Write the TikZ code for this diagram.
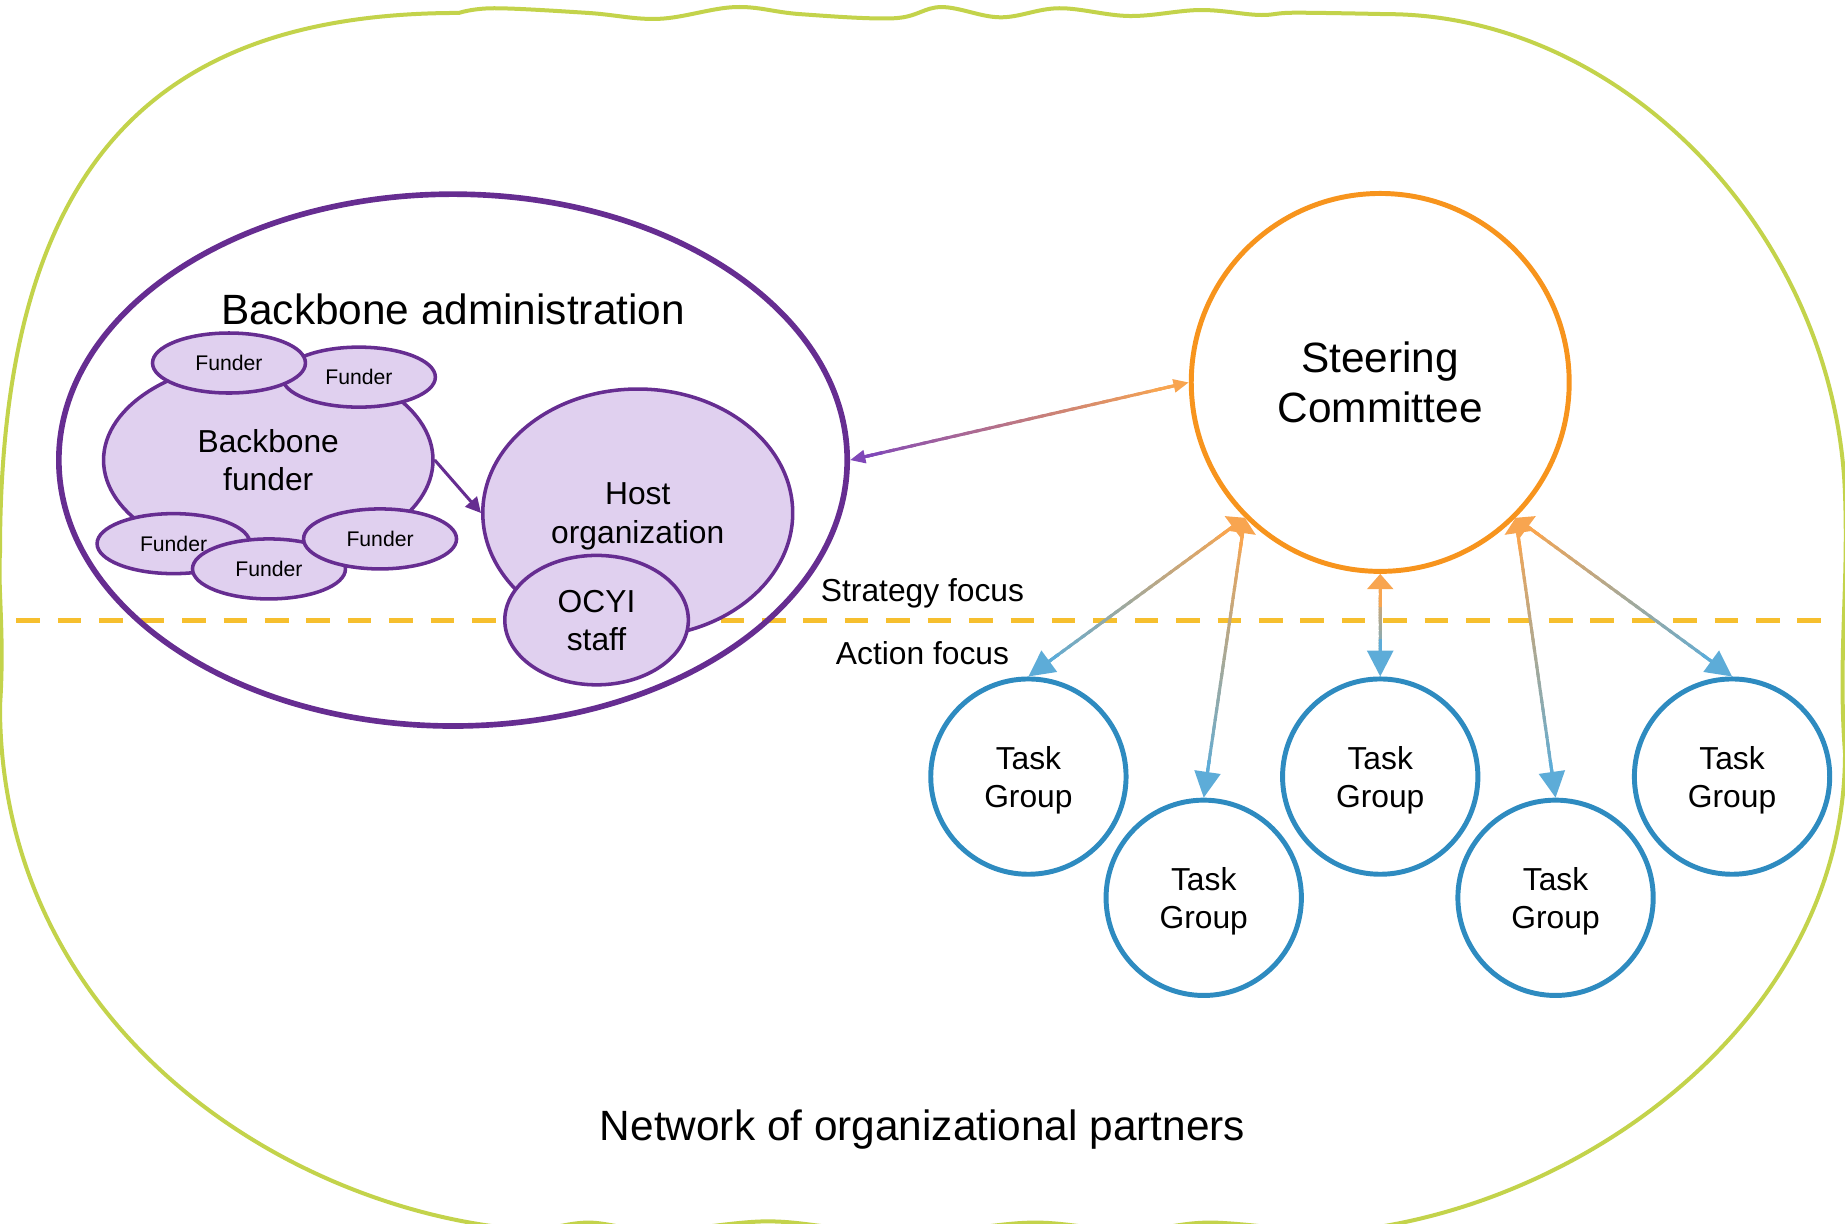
\documentclass[tikz,border=0pt]{standalone}
\usepackage{fontspec}
\setmainfont{Liberation Sans}
\usetikzlibrary{arrows.meta,calc,shapes.geometric}

\definecolor{bbpurple}{HTML}{662D91}
\definecolor{bblilac}{HTML}{E0D0EF}
\definecolor{scorange}{HTML}{F7941D}
\definecolor{tgblue}{HTML}{2E8BC0}
\definecolor{netgreen}{HTML}{C3D34B}
\definecolor{focusline}{HTML}{F6BF2E}
\definecolor{arrpurple}{HTML}{8048B8}
\definecolor{arrorange}{HTML}{F8A550}
\definecolor{arrblue}{HTML}{5DACD8}

% connector whose colour runs from #3 at (#1) to #4 at (#2)
\newcommand{\fadearrow}[6]{%
  \coordinate (fa) at ($(#1)!3pt!(#2)$);
  \coordinate (fb) at ($(#2)!5pt!(#1)$);
  \foreach \k in {0,...,29}{
    \pgfmathtruncatemacro{\fmix}{100-100*\k/29}
    \pgfmathsetmacro{\fto}{min(1,(\k+1.5)/30)}
    \draw[fadeseg, draw=#3!\fmix!#4] ($(fa)!\k/30!(fb)$) -- ($(fa)!\fto!(fb)$);
  }
  \draw[fadeseg, draw=#3, -{#5}] ($(#1)!14pt!(#2)$) -- (#1);
  \draw[fadeseg, draw=#4, -{#6}] ($(#2)!16pt!(#1)$) -- (#2);
}

\begin{document}
\begin{tikzpicture}
    [x=0.5pt, y=-0.5pt, every node/.style={align=center},
     bigtext/.style={font=\fontsize{18}{21.6}\selectfont},
     midtext/.style={font=\fontsize{13.5}{16.2}\selectfont},
     bb/.style={ellipse, draw=bbpurple, fill=bblilac, line width=1.5pt,
       inner sep=0pt, text depth=0pt, midtext},
     fu/.style={bb, minimum width=65pt, minimum height=25.5pt,
       font=\fontsize{9}{10.8}\selectfont},
     tg/.style={circle, draw=tgblue, fill=white, line width=2.1pt,
       minimum size=83pt, text depth=0pt, midtext},
     fadeseg/.style={line width=1.3pt}]

    \useasboundingbox (0,0) rectangle (1568,1040);
    \clip (0,0) rectangle (1568,1040);

    \draw[netgreen, line width=1.7pt]
      plot[smooth, tension=0.6] coordinates {(390,11) (420,7) (500,11)
        (560,16) (625,6) (680,12) (760,15.5) (800,6) (850,14.7) (900,7)
        (960,13.6) (1020,8.5) (1070,12.7) (1100,10.8) (1178,12)}
      .. controls (1380,12) and (1560,200) .. (1568,420)
      .. controls (1571,500) and (1562,560) .. (1568,640)
      .. controls (1568,880) and (1320,1040) .. (1120,1048)
      -- plot[smooth, tension=0.6] coordinates {(1120,1048) (1030,1039)
        (960,1046) (880,1039) (800,1046) (720,1044) (650,1038) (560,1046)
        (500,1039) (460,1046)}
      .. controls (255,1036) and (0,880) .. (0,600)
      .. controls (4,540) and (-2,500) .. (0,470)
      .. controls (0,135) and (135,11) .. (390,11) -- cycle;
    \draw[focusline, line width=2.1pt, dash pattern=on 10pt off 7.6pt]
      (14,527) -- (1556,527);

    \node[bigtext] (net) at (784,960) {Network of organizational partners};
    \node[midtext] (strat) at (784,504) {Strategy focus};
    \node[midtext] (act) at (784,555) {Action focus};

    \node[ellipse, draw=bbpurple, line width=2.4pt, minimum width=335pt,
      minimum height=226pt] (admin) at (385,391) {};
    \node[bigtext] (admtitle) at (385,263) {Backbone administration};
    \node[bb, minimum width=140pt, minimum height=85pt] (bfund) at (228,391)
      {Backbone\\funder};
    \node[fu] (fu2) at (305,320.5) {Funder};
    \node[fu] (fu1) at (194.6,308.5) {Funder};
    \node[fu] (fu3) at (147.5,462) {Funder};
    \node[fu] (fu4) at (228.6,483.5) {Funder};
    \node[fu] (fu5) at (323,458) {Funder};
    \node[bb, minimum width=131.7pt, minimum height=105.4pt] (host)
      at (542,436) {Host\\organization};
    \node[bb, minimum width=78pt, minimum height=55pt] (ocyi) at (507,527)
      {OCYI\\staff};
    \draw[bbpurple, line width=1.3pt, -{Triangle[length=6.5pt,width=6.5pt]}]
      (bfund.east) -- (host.west);

    \node[circle, draw=scorange, fill=white, line width=2.1pt,
      minimum size=160.6pt, bigtext] (sc) at (1173,325) {Steering\\Committee};
    \node[tg] (tg1) at (874,660) {Task\\Group};
    \node[tg] (tg2) at (1023,763) {Task\\Group};
    \node[tg] (tg3) at (1173,660) {Task\\Group};
    \node[tg] (tg4) at (1322,763) {Task\\Group};
    \node[tg] (tg5) at (1472,660) {Task\\Group};

    \fadearrow{admin.east}{sc.west}{arrpurple}{arrorange}
      {Triangle[length=6.5pt,width=5.5pt]}{Triangle[length=6.5pt,width=5.5pt]}
    \fadearrow{sc.225}{tg1.north}{arrorange}{arrblue}
      {Triangle[length=6.5pt,width=11pt]}{Triangle[length=11pt,width=11pt]}
    \fadearrow{sc.225}{tg2.north}{arrorange}{arrblue}
      {Triangle[length=6.5pt,width=11pt]}{Triangle[length=11pt,width=11pt]}
    \fadearrow{sc.south}{tg3.north}{arrorange}{arrblue}
      {Triangle[length=6.5pt,width=11pt]}{Triangle[length=11pt,width=11pt]}
    \fadearrow{sc.315}{tg4.north}{arrorange}{arrblue}
      {Triangle[length=6.5pt,width=11pt]}{Triangle[length=11pt,width=11pt]}
    \fadearrow{sc.315}{tg5.north}{arrorange}{arrblue}
      {Triangle[length=6.5pt,width=11pt]}{Triangle[length=11pt,width=11pt]}
\end{tikzpicture}
\end{document}
